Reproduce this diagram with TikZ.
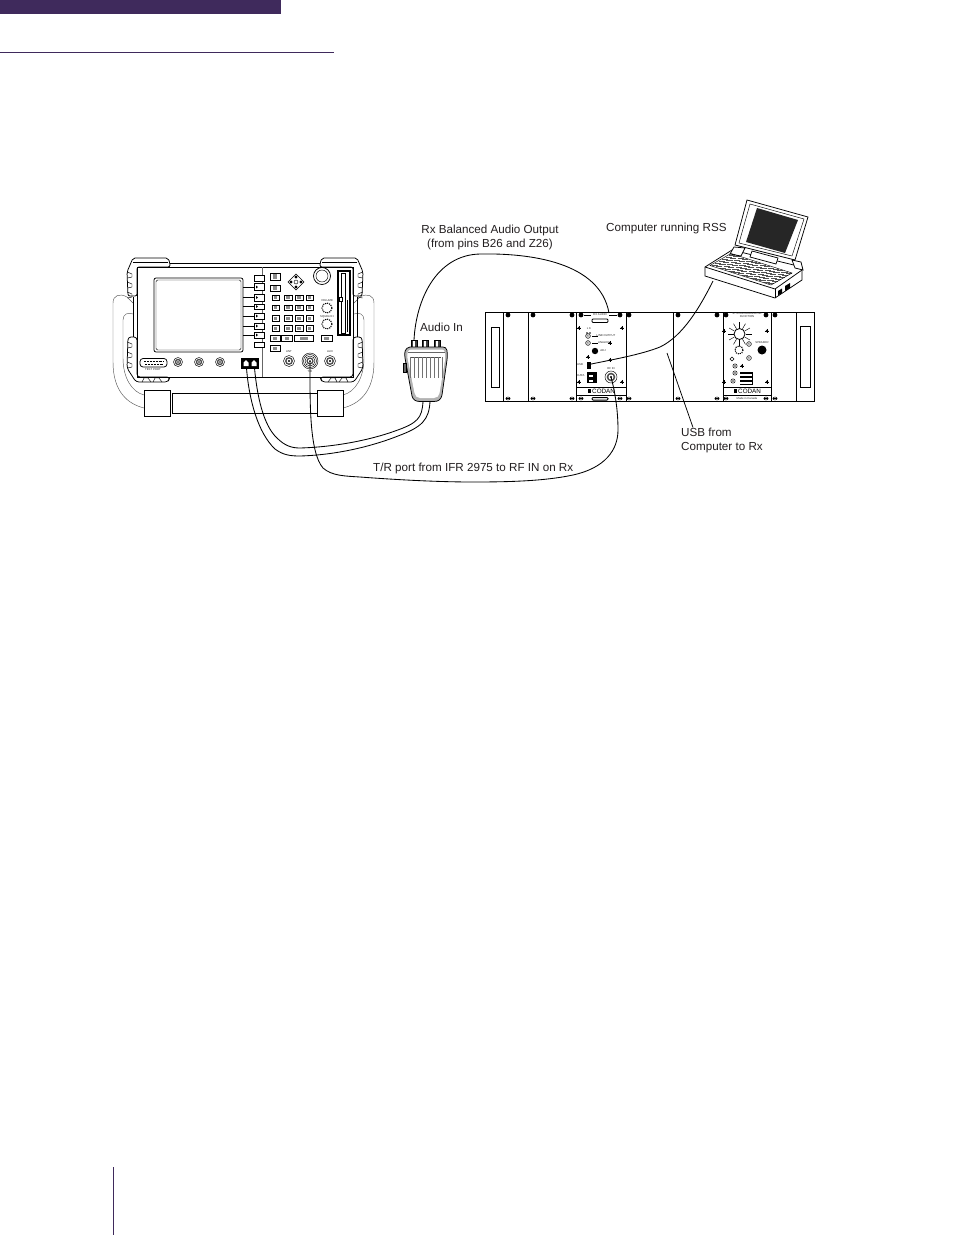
\documentclass[tikz,border=0pt]{standalone}
\usepackage{fontspec}
\usetikzlibrary{calc}
\setmainfont{Liberation Sans}
\definecolor{hdr}{HTML}{3F2A5C}
\definecolor{txt}{HTML}{231F20}
\tikzset{
  ln/.style={line width=0.75pt,black},
  thin ln/.style={line width=0.45pt,black},
  cable/.style={line width=0.85pt,black},
  lab/.style={font=\fontsize{11.65}{14}\selectfont,text=txt,inner sep=0pt,align=left},
  tiny lab/.style={font=\fontsize{2.8}{3.2}\selectfont,text=black!85,inner sep=0pt,align=center},
  codan/.style={font=\fontsize{6.3}{7}\selectfont,text=black,inner sep=0pt},
  keybtn/.style={line width=0.6pt,black,fill=white},
}
\newcommand{\bncconn}[3]{% x y r
  \draw[thin ln] (#1,#2) circle (#3);
  \fill[black!70] (#1,#2) circle ({#3*0.72});
  \fill[white] (#1,#2) circle ({#3*0.42});
  \fill[black] (#1,#2) circle ({#3*0.2});
}
\newcommand{\plusscrew}[2]{\fill[black] (#1,#2) circle (1.4);\draw[line width=0.4pt] (#1-2.2,#2)--(#1+2.2,#2) (#1,#2-2.2)--(#1,#2+2.2);}
\newcommand{\keymark}[4]{\draw[keybtn] (#1,#3) rectangle (#2,#4);\fill[black!45] ({#1+(#2-#1)*0.3},{#3+1.4}) rectangle ({#2-(#2-#1)*0.3},{#4-1.4});}
\begin{document}
\begin{tikzpicture}[x=1pt,y=-1pt]
\useasboundingbox (0,0) rectangle (954,1235);
\fill[white] (0,0) rectangle (954,1235);
% page furniture
\fill[hdr] (0,0) rectangle (281,14);
\draw[hdr,line width=0.9pt] (0,52.5) -- (333.5,52.5);
\draw[hdr,line width=0.9pt] (113,1167) -- (113,1235);

% ---------- IFR test set: handles and bar ends
\foreach \mir/\sh in {1/0,-1/487}{
\begin{scope}[xshift=\sh pt,xscale=\mir]
  \draw[thin ln,black!65] (144,408) .. controls (128,404) and (113,392) .. (113,362) -- (113,303) .. controls (113,295) and (120,293) .. (127,297) -- (133,303);
  \draw[thin ln,black!65] (144,395) .. controls (132,392) and (123,378) .. (123,358) -- (123,320) .. controls (123,314) and (128,312) .. (133,314);
  \draw[ln,fill=white] (144,390) rectangle (170,416);
\end{scope}}
% bumpers
\foreach \mir/\sh in {1/0,-1/490}{
\begin{scope}[xshift=\sh pt,xscale=\mir]
  \draw[ln,fill=white,rounded corners=2pt] (137,296) -- (128,296) -- (127,272) -- (133,258) -- (168,258) -- (170,263) -- (170,267) -- (137,267) -- cycle;
  \draw[thin ln] (133,262) -- (168,262);
  \foreach \yy in {272,282,292}{\draw[thin ln] (127.5,\yy) -- (132,\yy+2) -- (132,\yy+5) -- (127.5,\yy+6);}
  \draw[ln,fill=white,rounded corners=3pt] (137,337) -- (128,337) -- (127,368) -- (136,382) -- (168,382) -- (170,377) -- (137,377) -- cycle;
  \foreach \yy in {342,352,362}{\draw[thin ln] (127.5,\yy) -- (132,\yy+2) -- (132,\yy+5) -- (127.5,\yy+6);}
  \foreach \xx in {142,153}{\draw[thin ln] (\xx,382) -- (\xx+2,378) -- (\xx+6,378) -- (\xx+9,382);}
  \draw[ln] (133,297) -- (133,337);
\end{scope}}
\draw[ln] (170,263) -- (320,263);
\draw[ln,line width=0.9pt] (137,267) rectangle (353,377);
\draw[ln] (172,393) rectangle (317,413);
\draw[thin ln,black!60] (262,267) -- (262,377);

% screen
\draw[ln,rounded corners=2pt] (154,278) rectangle (243,352);
\draw[thin ln,rounded corners=1.5pt] (156,280) rectangle (241,350);

% soft keys
\foreach \a/\b in {275/281,283.5/290.5,294/301,304/309.5,313.5/319,323/329,332.5/338,342/347.5}{
  \draw[keybtn] (254,\a) rectangle (264,\b);}
\foreach \yy in {287,297.5,306.5,316,326,335}{
  \draw[thin ln] (243,\yy) -- (254,\yy);
  \fill (256,\yy-1.5) -- (258,\yy) -- (256,\yy+1.5) -- cycle;}
% keypad
\keymark{270}{280}{273}{280.5}
\keymark{270}{280}{285}{291}
\foreach \yy in {295,305,315.5,325.5}{
  \foreach \xx/\xe in {272/279,284/292,295/303,306/313}{
    \keymark{\xx}{\xe}{\yy}{\yy+5.5}}}
\foreach \xx/\xe in {270/280,281.5/292,294/313.5}{\keymark{\xx}{\xe}{335.5}{341}}
\keymark{270}{280}{345.5}{351}
\keymark{321}{332}{335.5}{341}
% arrow pad
\draw[thin ln] (296,274) -- (304,282) -- (296,290) -- (288,282) -- cycle;
\foreach \dx/\dy in {0/-5,0/5,-5/0,5/0}{\fill (296+\dx,282+\dy) circle (1.7);}
\draw[thin ln,fill=white] (296,282) circle (2);
% knobs
\draw[ln] (322,276) circle (8.5);
\draw[thin ln] (322,276) circle (6);
\draw[densely dotted,line width=1.1pt] (327,308) circle (5);
\draw[densely dotted,line width=1.1pt] (327,324) circle (5);
\node[tiny lab] (volume) at (327,300.5) {VOLUME};
\node[tiny lab] (squelch) at (327,316.5) {SQUELCH};
% floppy
\draw[ln,line width=1.4pt] (338,271) rectangle (350,335);
\draw[thin ln] (341,273) rectangle (345,333);
\draw[line width=1pt] (347,300) -- (347,332);
\fill[white] (339,297) rectangle (342,301); \draw[thin ln] (339,297) rectangle (342,301);
% bottom connectors
\bncconn{289}{361}{5.5}
\draw[thin ln] (310,361) circle (8);
\draw[thin ln] (310,361) circle (6.5);
\bncconn{310}{361}{5}
\bncconn{330}{361}{5.5}
\node[tiny lab] (trlab) at (310,371) {T/R};
\node[tiny lab] (ant) at (289,352) {ANT};
\node[tiny lab] (aux) at (330,352) {AUX};
\draw[ln,rounded corners=3pt] (140,358.5) rectangle (167,367);
\draw[thin ln,densely dotted,line width=1pt] (144,361) -- (164,361) (145,364) -- (163,364);
\bncconn{178}{362}{4.5}
\bncconn{199}{362}{4.5}
\bncconn{220}{362}{4.5}
\node[tiny lab] (tport) at (153,369.5) {TEST PORT};
% audio socket
\fill[black] (241,358) rectangle (259,369);
\foreach \xx in {246,254}{\fill[white] (\xx-2.5,366) -- (\xx-2.5,362.5) -- (\xx,360) -- (\xx+2.5,362.5) -- (\xx+2.5,366) -- cycle;}
\coordinate (sockA) at (246.5,368);
\coordinate (sockB) at (254.5,368);
\coordinate (trport) at (310,361);

% ---------- Microphone
\foreach \xx in {414,425,437}{
  \draw[ln,fill=black!75] (\xx-3,340) rectangle (\xx+3,347);
  \fill[white] (\xx-0.8,341) rectangle (\xx+0.8,347);}
\draw[ln,fill=black!30] (410,347) .. controls (405,348) and (404,352) .. (405,358)
   -- (412,396) .. controls (413,400) and (416,401.5) .. (420,401.5)
   -- (434,401.5) .. controls (439,401.5) and (441,399) .. (442,395)
   -- (447,360) .. controls (448,351) and (447,347) .. (443,347) -- cycle;
\fill[white] (411,349.5) .. controls (407.5,350) and (407,353) .. (407.5,358)
   -- (414.5,393) .. controls (415,396) and (417,398) .. (420,398)
   -- (434,398) .. controls (437,398) and (439,396) .. (439.5,393)
   -- (445,360) .. controls (445.5,353) and (445,350) .. (442,349.5) -- cycle;
\draw[thin ln,black!60] (408,352) -- (445,352);
\draw[thin ln,black!70] (410,357) -- (441,357);
\foreach \xx in {410,414,...,442}{\draw[line width=0.7pt,black!55] (\xx,357) -- (\xx,378);}
\draw[ln,fill=black!60] (403,363) rectangle (406,372);
\coordinate (micA) at (414,340);
\coordinate (micB) at (423,401.5);
\coordinate (micC) at (430,401.5);

% ---------- Rack
\draw[ln,line width=0.9pt] (485,312) rectangle (814,401);
\foreach \xx in {503,528,576,626,673,723,771,796}{\draw[ln] (\xx,312) -- (\xx,401);}
\draw[ln] (491,327) rectangle (499,387);
\draw[ln] (800,326) rectangle (810,387);
\foreach \xx in {508,533,572,581,620,629,678,717,726,766,775}{
  \fill (\xx,315) circle (2.4);
  \draw[thin ln,fill=white] (\xx,398.5) ellipse (2.2 and 1.5);
  \draw[thin ln] (\xx-2.2,398.5) -- (\xx+2.2,398.5);}
% module 1
\draw[ln] (576,387) -- (626,387);
\draw[ln] (576,395) -- (626,395);
\draw[ln,rounded corners=1pt] (592,319) rectangle (608,322.5);
\draw[ln,line width=1pt] (584,315) -- (591,315) (609,315) -- (617,315);
\node[tiny lab] (balout) at (600,315) {RX AUDIO};
\draw[ln,rounded corners=1pt,line width=1pt] (592,397.5) rectangle (608,400);
\foreach \xx/\yy in {579/328,622/328,610/343,588/357,610/360,579/382,622/382}{\plusscrew{\xx}{\yy}}
\node[tiny lab] (leda) at (589,329) {L K};
\fill (587,333) circle (0.8) (590,333) circle (0.8);
\bncconn{588}{336}{2.4}
\bncconn{588}{343}{2.4}
\draw[line width=0.7pt] (592,336) -- (598,336) (592,343) -- (598,343);
\node[tiny lab] (la) at (606,336) {LINE OUTPUT};
\node[tiny lab] (lb) at (604,343) {ANALOG};
\fill (595,351) circle (3.2);
\node[tiny lab] (lc) at (603,351) {ADJ};
\fill (587,362) rectangle (590.5,369);
\node[tiny lab] (usblab) at (580,365) {USB};
\fill (587,372) rectangle (597,383);
\fill[white] (589,374.5) rectangle (593,377);\fill[white] (589,380) rectangle (593,381.5);
\node[tiny lab] (cslab) at (581,376) {DATA};
\node[tiny lab] (rflab) at (611,369) {RF IN};
\bncconn{611}{377}{6}
\coordinate (usbport) at (589,364.5);
\coordinate (rfport) at (611,377);
\coordinate (balport) at (609,313);
\fill (587.5,389) rectangle (591,393);
\node[codan,anchor=west] (codanA) at (592,391) {CODAN};
% module 2
\draw[ln] (723,387) -- (771,387);
\draw[ln] (723,395) -- (771,395);
\node[tiny lab] (title) at (747,315) {SYSTEM REGULATOR\\FUNCTION};
\foreach \a in {0,30,...,330}{\draw[thin ln] ($(739.5,334)+(\a:6)$) -- ($(739.5,334)+(\a:12)$);}
\draw[ln,line width=0.8pt] (739.5,334) circle (5.5);
\draw[densely dotted,line width=1.1pt] (739,350) circle (4);
\fill (762,350) circle (4.5);
\node[tiny lab] (ctrl) at (762,343) {SPEAKER};
\bncconn{749}{344}{2.4}
\bncconn{749}{358}{2.4}
\draw[thin ln] (732,357) -- (734,359) -- (732,361) -- (730,359) -- cycle;
\foreach \yy/\xx in {366/735,373/735,381/733}{\bncconn{\xx}{\yy}{2.2}}
\fill (739.5,372) rectangle (753,385);
\foreach \yy in {373.5,377.5,381.5}{\fill[white] (740.3,\yy) rectangle (752.2,\yy+2.2);}
\foreach \xx/\yy in {724/331,767/331,742/366,724/382,767/382}{\plusscrew{\xx}{\yy}}
\fill (733.5,389) rectangle (737,393);
\node[codan,anchor=west] (codanB) at (738,391) {CODAN};
\node[tiny lab] (made) at (747,398) {Made in Canada};

% ---------- Laptop
\draw[ln,fill=white] (747,200) -- (808,217) -- (795,260) -- (735,245) -- cycle;
\draw[thin ln] (750,204) -- (804,219) -- (792,256) -- (739,243) -- cycle;
\fill[black!85] (757,208) -- (798,220) -- (785,253) -- (746,242) -- cycle;
\draw[ln,fill=white] (705,267) -- (732,250) -- (802,267) -- (802,280) -- (775,298) -- (705,276) -- cycle;
\draw[ln] (705,267) -- (775,289) -- (802,270);
\draw[ln] (775,289) -- (775,298);
\draw[ln,fill=white] (734,247) -- (745,248) -- (741,256) -- (730,254) -- cycle;
\draw[ln,fill=white] (792,260) -- (801,262) -- (803,270) -- (795,268) -- cycle;
\draw[ln,fill=white] (752,251) -- (778,258) -- (776,264) -- (750,257) -- cycle;
\begin{scope}[shift={(710,265.5)},x={(61pt,-19.5pt)},y={(21pt,12pt)}]
  \foreach \row in {0,1,...,5}{
    \foreach \col in {0,1,...,13}{
      \pgfmathsetmacro{\xa}{0.015+\col/14}
      \pgfmathsetmacro{\xb}{\xa+0.058}
      \pgfmathsetmacro{\ya}{0.03+\row/6}
      \pgfmathsetmacro{\yb}{\ya+0.125}
      \fill[black!68] (\xa,\ya) rectangle (\xb,\yb);
    }}
\end{scope}
\draw[thin ln] (710,265.5) -- (771,285) -- (792,273) -- (731,253.5) -- cycle;
\fill (785,286) -- (790,283) -- (790,288) -- (785,291) -- cycle;
\fill (778,291) -- (782,288.5) -- (782,293) -- (778,295.5) -- cycle;
\coordinate (lappt) at (713,281);

% ---------- Cables
\draw[cable] (micA) .. controls (416,300) and (436,255) .. (480,254) .. controls (530,253) and (600,262) .. (balport);
\draw[cable] (sockB) .. controls (257,395) and (263,425) .. (277,438) .. controls (285,446) and (292,448) .. (300,448) .. controls (335,447) and (370,440) .. (395,431) .. controls (418,423) and (422,418) .. (micB);
\draw[cable] (sockA) .. controls (249,400) and (258,433) .. (275,449) .. controls (283,455) and (290,456) .. (300,456) .. controls (335,455) and (370,447) .. (398,436) .. controls (422,427) and (429,420) .. (micC);
\draw[cable] (trport) .. controls (310,400) and (309,452) .. (323,468) .. controls (332,476) and (345,476) .. (360,477) .. controls (400,480) and (440,482) .. (473,482) .. controls (510,482) and (545,481) .. (573,475) .. controls (605,468) and (618,450) .. (618,430) .. controls (618,410) and (615,392) .. (rfport);
\draw[cable] (usbport) .. controls (610,360) and (640,355) .. (660,347) .. controls (683,336) and (700,307) .. (lappt);

% ---------- Labels
\node[lab,anchor=center,align=center] (rxlab) at (490,237.5) {Rx Balanced Audio Output\\(from pins B26 and Z26)};
\node[lab,anchor=west] (rsslab) at (606,228) {Computer running RSS};
\node[lab,anchor=west] (audiolab) at (420,327) {Audio In};
\node[lab,anchor=west] (trplab) at (373,468) {T/R port from IFR 2975 to RF IN on Rx};
\node[lab,anchor=north west] (usbtext) at (681,427.5) {USB from\\Computer to Rx};
\coordinate (leadend) at (667,353);
\coordinate (leadstart) at ($(usbtext.north west)+(12,0)$);
\draw[ln] (leadstart) -- (leadend);
\end{tikzpicture}
\end{document}
